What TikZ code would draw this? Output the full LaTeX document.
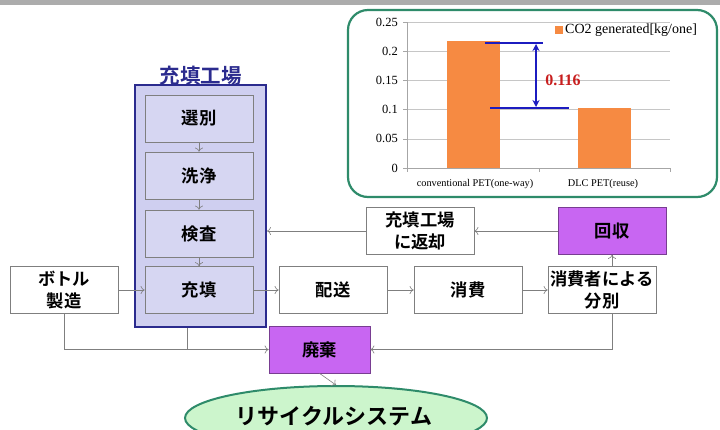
\documentclass[tikz,border=0pt]{standalone}
\usepackage{fontspec}
\setmainfont{Liberation Serif}
\newfontfamily\jp{Noto Sans CJK JP}[UprightFont=* Bold]
\usetikzlibrary{arrows.meta,shapes.geometric,calc}
\definecolor{lav}{HTML}{D6D6F2}
\definecolor{lavout}{HTML}{CFCFF0}
\definecolor{navy}{HTML}{2B2B8E}
\definecolor{purp}{HTML}{C866F2}
\definecolor{gframe}{HTML}{2E8B6A}
\definecolor{ellfill}{HTML}{CCF5CC}
\definecolor{orng}{HTML}{F68A42}
\definecolor{bl}{HTML}{1C1CC0}
\definecolor{rd}{HTML}{C81E1E}
\definecolor{ln}{HTML}{7F7F7F}
\begin{document}
\begin{tikzpicture}[x=1pt,y=-1pt,
  box/.style={draw=ln, fill=white, line width=0.7pt, minimum width=108pt, minimum height=47pt,
    font=\jp\fontsize{17.3}{22.5}\selectfont, align=center, inner sep=0pt},
  inbox/.style={box, fill=lav},
  pbox/.style={box, fill=purp, draw=purp!60!black},
  arr/.style={draw=ln, line width=0.6pt, -{To[length=4pt,width=8pt]}},
  lin/.style={draw=ln, line width=0.6pt},
  tick/.style={font=\fontsize{12.5}{14}\selectfont, anchor=east, inner sep=0pt}
]
\useasboundingbox (0,0) rectangle (720,429);
\fill[gray!65] (0,0) rectangle (720,5);

% chart frame
\draw[gframe, line width=2.2pt, rounded corners=20pt, fill=white] (348,10) rectangle (717,197);
% gridlines
\foreach \v in {0.05,0.1,0.15,0.2,0.25} {
  \draw[gray!45, line width=0.6pt] (407,{168-\v*584}) -- (670,{168-\v*584});
}
\draw[gray!70, line width=0.6pt] (407,22) -- (407,168) -- (670,168);
\foreach \v in {0,0.05,0.1,0.15,0.2,0.25} {
  \draw[gray!70, line width=0.6pt] (403,{168-\v*584}) -- (407,{168-\v*584});
}
\foreach \xx in {407,539,670} \draw[gray!70, line width=0.6pt] (\xx,168) -- (\xx,172);
\node[tick] (t0) at (398,168) {0};
\node[tick] (t1) at (398,{168-0.05*584}) {0.05};
\node[tick] (t2) at (398,{168-0.1*584}) {0.1};
\node[tick] (t3) at (398,{168-0.15*584}) {0.15};
\node[tick] (t4) at (398,{168-0.2*584}) {0.2};
\node[tick] (t5) at (398,{168-0.25*584}) {0.25};
\fill[orng] (447,168) rectangle (500,{168-0.218*584});
\fill[orng] (578,168) rectangle (631,{168-0.102*584});
\node[font=\fontsize{10.3}{12}\selectfont] (c1) at (475,184) {conventional PET(one-way)};
\node[font=\fontsize{10.3}{12}\selectfont] (c2) at (603,184) {DLC PET(reuse)};
\fill[orng] (555,26) rectangle (563,34);
\node[font=\fontsize{14}{16}\selectfont, anchor=west, inner sep=0pt] (leg) at (565,30.5) {CO2 generated[kg/one]};
% difference marker
\coordinate (uL) at (485,43);
\coordinate (uR) at (543,43);
\coordinate (dL) at (490,108);
\coordinate (dR) at (569,108);
\draw[bl, line width=2pt] (uL) -- (uR);
\draw[bl, line width=2pt] (dL) -- (dR);
\draw[bl, line width=1.6pt, {Stealth[length=7pt,width=7pt]}-{Stealth[length=7pt,width=7pt]}] (536,44) -- (536,107);
\node[rd, font=\bfseries\fontsize{16}{18}\selectfont] (diff) at (563,80) {0.116};

% factory
\node[draw=navy, fill=lavout, line width=2pt, minimum width=131pt, minimum height=242pt, inner sep=0pt] (fac) at (200.5,206) {};
\node[navy, font=\jp\fontsize{20.5}{22}\selectfont, inner sep=0pt] (factitle) at (200.5,76) {充填工場};
\node[inbox] (s1) at (199,118.5) {選別};
\node[inbox] (s2) at (199,175.5) {洗浄};
\node[inbox] (s3) at (199,233.5) {検査};
\node[inbox] (s4) at (199,290) {充填};
\draw[arr] (s1) -- (s2);
\draw[arr] (s2) -- (s3);
\draw[arr] (s3) -- (s4);

\node[box] (bottle) at (64,290) {ボトル\\製造};
\node[box] (ret) at (420,231) {充填工場\\に返却};
\node[pbox] (kai) at (612,231) {回収};
\node[box] (hai1) at (333,290) {配送};
\node[box] (sho) at (468,290) {消費};
\node[box] (bun) at (602,290) {消費者による\\分別};
\node[pbox, minimum width=101pt] (hai) at (319.5,349.5) {廃棄};
\node[ellipse, draw=gframe, fill=ellfill, line width=2pt, minimum width=302pt, minimum height=64pt, inner sep=0pt] (ell) at (336,418) {};
\node[font=\jp\fontsize{22}{24}\selectfont, inner sep=0pt] (elltext) at (334,416) {リサイクルシステム};

\draw[arr] (bottle) -- (s4);
\draw[arr] (s4.east) -- (hai1.west);
\draw[arr] (hai1) -- (sho);
\draw[arr] (sho) -- (bun);
\draw[arr] (bun.north -| kai.south) -- (kai.south);
\draw[arr] (kai) -- (ret);
\draw[arr] (ret.west) -- (ret.west -| fac.east);
\draw[arr] (bottle.south) |- (hai.west);
\draw[lin] ([xshift=-13pt]fac.south) -- ([xshift=-13pt]fac.south |- hai.west);
\draw[arr] (bun.south -| kai.south) |- (hai.east);
\draw[arr] (hai.south) -- (ell.north);
\end{tikzpicture}
\end{document}
